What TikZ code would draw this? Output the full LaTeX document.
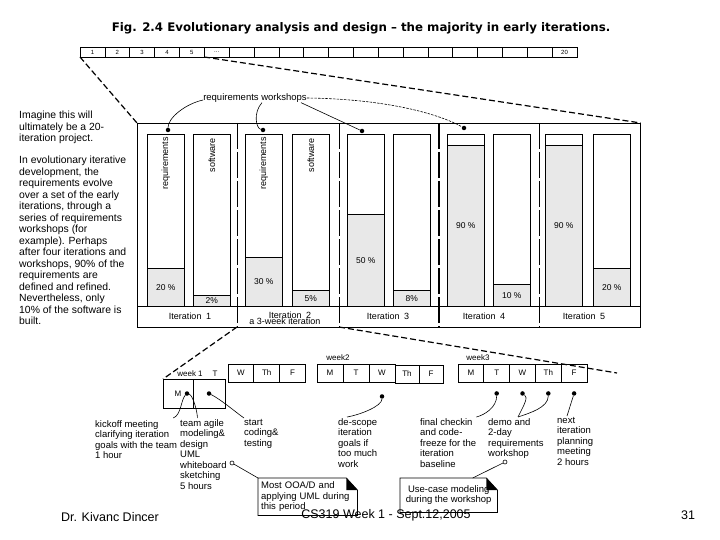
\documentclass[tikz,border=0pt]{standalone}
\usepackage{fontspec}
\setmainfont{Liberation Sans}
\newfontfamily\titlefont{DejaVu Sans}
\usepackage{tikz}
\usetikzlibrary{positioning, calc}
\definecolor{shade}{HTML}{E8E8E8}

\begin{document}
\begin{tikzpicture}[x=1pt, y=-1pt,
    cell/.style={draw, line width=0.6pt, minimum width=24.85pt, minimum height=10pt, inner sep=0pt, outer sep=0pt, font=\fontsize{6}{6.5}\selectfont},
    bar/.style={draw, line width=0.7pt, minimum width=37pt, minimum height=172pt, inner sep=0pt, anchor=north west},
    level/.style={draw, line width=0.7pt, fill=shade, minimum width=37pt, minimum height=#1, inner sep=0pt, anchor=south west, font=\fontsize{8.5}{9}\selectfont},
    vtext/.style={rotate=90, anchor=east, inner sep=0pt, font=\fontsize{9}{10}\selectfont},
    iterlabel/.style={inner sep=0pt, font=\fontsize{9}{10}\selectfont},
    sep/.style={line width=0.7pt, dash pattern=on 26pt off 3pt},
    zoomline/.style={line width=1.2pt, dash pattern=on 6pt off 3pt},
    wdot/.style={circle, fill=black, inner sep=0pt, minimum size=4.5pt},
    odot/.style={circle, draw, fill=white, line width=0.6pt, inner sep=0pt, minimum size=4pt},
    day/.style={draw, line width=0.7pt, minimum width=#1, minimum height=18pt, inner sep=0pt, outer sep=0pt, font=\fontsize{8}{9}\selectfont},
    day/.default={25.8pt},
    note/.style={font=\fontsize{9.5}{10.5}\selectfont, align=left, inner sep=0pt, anchor=north west},
    notebox/.style={font=\fontsize{9.5}{10.5}\selectfont, inner sep=3pt, anchor=north west},
    callout/.style={line width=0.6pt}
]
\useasboundingbox (0,0) rectangle (720,540);

% === TITLE AND 20-ITERATION STRIP ===
\node[font=\titlefont\bfseries\fontsize{11.8}{13}\selectfont] (title) at (361,28) {Fig. 2.4 Evolutionary analysis and design – the majority in early iterations.};

\node[cell, anchor=north west] (t1) at (80,47) {1};
\node[cell, right=0pt of t1] (t2) {2};
\node[cell, right=0pt of t2] (t3) {3};
\node[cell, right=0pt of t3] (t4) {4};
\node[cell, right=0pt of t4] (t5) {5};
\node[cell, right=0pt of t5] (t6) {...};
\node[cell, right=0pt of t6] (t7) {};
\node[cell, right=0pt of t7] (t8) {};
\node[cell, right=0pt of t8] (t9) {};
\node[cell, right=0pt of t9] (t10) {};
\node[cell, right=0pt of t10] (t11) {};
\node[cell, right=0pt of t11] (t12) {};
\node[cell, right=0pt of t12] (t13) {};
\node[cell, right=0pt of t13] (t14) {};
\node[cell, right=0pt of t14] (t15) {};
\node[cell, right=0pt of t15] (t16) {};
\node[cell, right=0pt of t16] (t17) {};
\node[cell, right=0pt of t17] (t18) {};
\node[cell, right=0pt of t18] (t19) {};
\node[cell, right=0pt of t19] (t20) {20};

% === LEFT TEXT ===
\node[note, font=\fontsize{10.4}{11.5}\selectfont] (imagine) at (19,111) {Imagine this will\\ultimately be a 20-\\iteration project.};
\node[note, font=\fontsize{10.4}{11.5}\selectfont] (evolve) at (19,156) {In evolutionary iterative\\development, the\\requirements evolve\\over a set of the early\\iterations, through a\\series of requirements\\workshops (for\\example). Perhaps\\after four iterations and\\workshops, 90\% of the\\requirements are\\defined and refined.\\Nevertheless, only\\10\% of the software is\\built.};

% === ITERATION CHART ===
\node[draw, line width=0.8pt, minimum width=503pt, minimum height=204pt, inner sep=0pt, anchor=north west] (chart) at (137,123) {};

\node[bar] (req1) at (147,134) {};
\node[bar] (sw1) at (193,134) {};
\node[bar] (req2) at (245,134) {};
\node[bar] (sw2) at (292,134) {};
\node[bar] (req3) at (347,134) {};
\node[bar] (sw3) at (393,134) {};
\node[bar] (req4) at (447,134) {};
\node[bar] (sw4) at (493,134) {};
\node[bar] (req5) at (545,134) {};
\node[bar] (sw5) at (593,134) {};

\node[level=38pt] (req1f) at (req1.south west) {20 \%};
\node[level=11pt] (sw1f) at (sw1.south west) {2\%};
\node[level=49pt] (req2f) at (req2.south west) {30 \%};
\node[level=16pt] (sw2f) at (sw2.south west) {5\%};
\node[level=92pt] (req3f) at (req3.south west) {50 \%};
\node[level=16pt] (sw3f) at (sw3.south west) {8\%};
\node[level=161pt] (req4f) at (req4.south west) {90 \%};
\node[level=22pt] (sw4f) at (sw4.south west) {10 \%};
\node[level=161pt] (req5f) at (req5.south west) {90 \%};
\node[level=38pt] (sw5f) at (sw5.south west) {20 \%};

\node[vtext] at ([yshift=-3pt]req1.north) {requirements};
\node[vtext] at ([yshift=-4pt]sw1.north) {software};
\node[vtext] at ([yshift=-3pt]req2.north) {requirements};
\node[vtext] at ([yshift=-4pt]sw2.north) {software};

\draw[line width=0.8pt] (req1.south west -| chart.west) -- (req1.south west -| chart.east);
\draw[sep] (237,123) -- (237,327);
\draw[sep] (339,123) -- (339,327);
\draw[sep, line width=1.5pt] (439,123) -- (439,327);
\draw[sep] (539,123) -- (539,327);

\node[iterlabel] (it1) at (190,316) {Iteration\enspace 1};
\node[iterlabel] (it2) at (290,315) {Iteration\enspace 2};
\node[iterlabel] (week3it) at (285,321) {a 3-week iteration};
\node[iterlabel] (it3) at (388,316) {Iteration\enspace 3};
\node[iterlabel] (it4) at (484,316) {Iteration\enspace 4};
\node[iterlabel] (it5) at (584,316) {Iteration\enspace 5};

% === REQUIREMENTS WORKSHOPS ===
\node[iterlabel, font=\fontsize{9.5}{10}\selectfont] (rw) at (255,98) {requirements workshops};
\node[wdot] (ws1) at (168,130) {};
\node[wdot] (ws2) at (263,130) {};
\node[wdot] (ws3) at (362,131) {};
\node[wdot] (ws4) at (464,128) {};

\draw[callout] ([yshift=-2pt]rw.west) .. controls +(-18,4) and +(0,-12) .. (ws1);
\draw[callout] ([xshift=7pt]rw.south) .. controls +(-9,10) and +(-7,-2) .. (ws2);
\draw[callout] ([xshift=-6pt]rw.south east) -- (ws3);
\draw[callout, dash pattern=on 2.5pt off 1.2pt] (rw.east) .. controls +(80,1) and +(-25,-14) .. (ws4);

% === ZOOM LINES ===
\coordinate (i2sw) at (237,327);
\coordinate (i2se) at (339,327);
\coordinate (w3end) at (617,373);
\draw[zoomline] (t1.south west) -- (chart.north west);
\draw[zoomline] (t5.south east) -- (chart.north east);

% === WEEKS ===
\node[day=30pt, minimum height=29pt, anchor=north west] (w1m) at (163,379) {M\hspace{8pt}};
\node[day=32pt, minimum height=29pt, right=0pt of w1m] (w1t) {};
\node[iterlabel, font=\fontsize{8}{9}\selectfont] (wk1) at (190,374) {week 1};
\node[iterlabel, font=\fontsize{8}{9}\selectfont] (wk1t) at (215,374) {T};

\node[day, anchor=north west] (w1w) at (228,364) {W};
\node[day, right=0pt of w1w] (w1th) {Th};
\node[day, right=0pt of w1th] (w1f) {F};

\node[day=26pt, anchor=north west] (w2m) at (317,364) {M};
\node[day=26pt, right=0pt of w2m] (w2t) {T};
\node[day=26pt, right=0pt of w2t] (w2w) {W};
\node[day=24pt, right=0pt of w2w, yshift=-1pt] (w2th) {Th};
\node[day=24pt, right=0pt of w2th] (w2f) {F};
\node[iterlabel, font=\fontsize{8}{9}\selectfont] (wk2) at (338,358) {week2};

\node[day, anchor=north west] (w3m) at (458,364) {M};
\node[day, right=0pt of w3m] (w3t) {T};
\node[day, right=0pt of w3t] (w3w) {W};
\node[day, right=0pt of w3w] (w3th) {Th};
\node[day, right=0pt of w3th] (w3f) {F};
\node[iterlabel, font=\fontsize{8}{9}\selectfont] (wk3) at (478,358) {week3};

\draw[zoomline] (i2sw) -- (w1m.north west);
\draw[zoomline] (i2se) -- (w3end);

% === ACTIVITIES ===
\node[wdot] (dw1m) at ([xshift=9pt]w1m.center) {};
\node[wdot] (dw1t) at (w1t.center) {};
\node[wdot, below=12pt of w2w] (dw2w) {};
\node[wdot, below=9pt of w3t] (dw3t) {};
\node[wdot, below=9pt of w3w] (dw3w) {};
\node[wdot, below=9pt of w3th] (dw3th) {};
\node[wdot, below=9pt of w3f] (dw3f) {};

\node[note] (kick) at (95,420) {kickoff meeting\\clarifying iteration\\goals with the team\\1 hour};
\node[note] (agile) at (180,419) {team agile\\modeling\&\\design\\UML\\whiteboard\\sketching\\5 hours};
\node[note] (start) at (244,419) {start\\coding\&\\testing};
\node[note] (descope) at (338,418) {de-scope\\iteration\\goals if\\too much\\work};
\node[note] (checkin) at (420,418) {final checkin\\and code-\\freeze for the\\iteration\\baseline};
\node[note] (demo) at (488,418) {demo and\\2-day\\requirements\\workshop};
\node[note] (next) at (557,417) {next\\iteration\\planning\\meeting\\2 hours};

\draw[callout] (dw1m) .. controls +(-6,6) and +(8,-3) .. ([xshift=-4pt, yshift=2pt]kick.north east);
\draw[callout] (dw1m) .. controls +(6,2) and +(0,-6) .. ([xshift=-6pt, yshift=1pt]agile.north);
\draw[callout] (dw1t) .. controls +(12,6) and +(-6,-4) .. ([yshift=1pt]start.north west);
\draw[callout] (dw2w) .. controls +(0,10) and +(12,-2) .. ([xshift=9pt, yshift=1pt]descope.north west);
\draw[callout] (dw3t) .. controls +(0,14) and +(8,-2) .. ([yshift=1pt]checkin.north east);
\draw[callout] (dw3w) .. controls +(6,4) and +(6,-12) .. ([xshift=30pt, yshift=1pt]demo.north west);
\draw[callout] (dw3th) .. controls +(0,14) and +(12,-4) .. ([xshift=30pt, yshift=1pt]demo.north west);
\draw[callout] (dw3f) -- ([xshift=10pt, yshift=1pt]next.north west);

% === NOTES ===
\node[odot] (wbend) at (232,463) {};
\node[odot] (wsend) at (505,462) {};

\node[notebox, minimum width=99pt, minimum height=37pt, align=left, text width=93pt] (ooad) at (258,478) {Most OOA/D and\\applying UML during\\this period};
\draw[line width=0.7pt] (ooad.north west) -- ([xshift=-11pt]ooad.north east) -- ([yshift=-12pt]ooad.north east) -- (ooad.south east) -- (ooad.south west) -- cycle;
\fill ([xshift=-11pt]ooad.north east) -- ([yshift=-12pt]ooad.north east) -- ([xshift=-11pt, yshift=-12pt]ooad.north east) -- cycle;

\node[notebox, minimum width=97pt, minimum height=34pt, align=center] (usecase) at (400,478) {Use-case modeling\\during the workshop};
\draw[line width=0.7pt] (usecase.north west) -- ([xshift=-11pt]usecase.north east) -- ([yshift=-12pt]usecase.north east) -- (usecase.south east) -- (usecase.south west) -- cycle;
\fill ([xshift=-11pt]usecase.north east) -- ([yshift=-12pt]usecase.north east) -- ([xshift=-11pt, yshift=-12pt]usecase.north east) -- cycle;

\draw[callout] (wbend) -- (ooad.north west);
\draw[callout] (wsend) -- ([xshift=24pt]usecase.north);

% === FOOTER ===
\node[font=\fontsize{12.5}{14}\selectfont] (author) at (110,517) {Dr. Kivanc Dincer};
\node[font=\fontsize{12.5}{14}\selectfont] (course) at (386,515) {CS319 Week 1 - Sept.12,2005};
\node[font=\fontsize{12.5}{14}\selectfont] (page) at (688,515) {31};

\end{tikzpicture}
\end{document}
